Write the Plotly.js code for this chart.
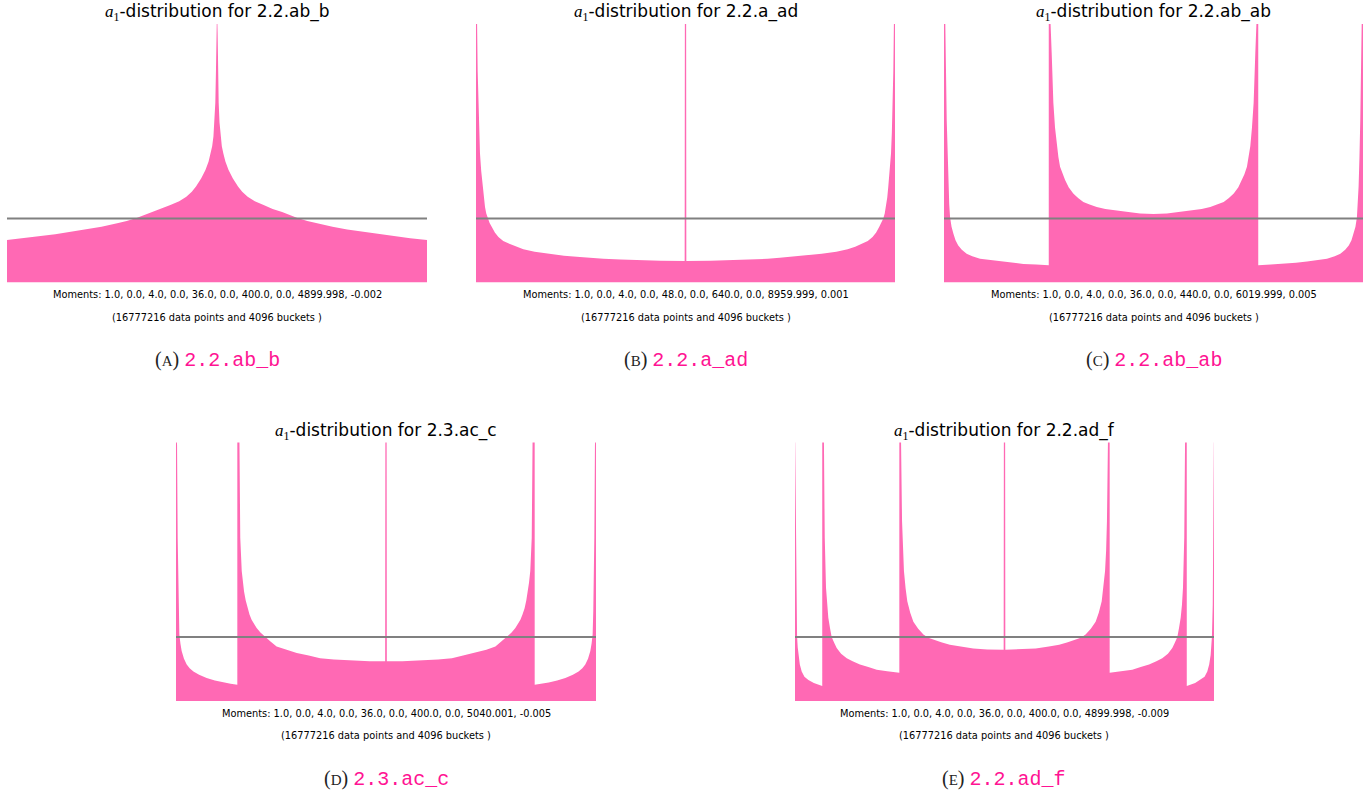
<!DOCTYPE html>
<html>
<head>
<meta charset="utf-8">
<script src="https://cdn.plot.ly/plotly-3.0.1.min.js"></script>
<style>html,body{margin:0;padding:0;background:#fff;}#chart{width:1372px;height:797px;}</style>
</head>
<body>
<div id="chart"></div>
<script>
// ---- data (normalised a1 range [-1, 1], density relative to uniform = 1) ----
const panelNames = ["2.2.ab_b", "2.2.a_ad", "2.2.ab_ab", "2.3.ac_c", "2.2.ad_f"];
const panelLetters = ["A", "B", "C", "D", "E"];
const momentsText = [
  "Moments: 1.0, 0.0, 4.0, 0.0, 36.0, 0.0, 400.0, 0.0, 4899.998, -0.002",
  "Moments: 1.0, 0.0, 4.0, 0.0, 48.0, 0.0, 640.0, 0.0, 8959.999, 0.001",
  "Moments: 1.0, 0.0, 4.0, 0.0, 36.0, 0.0, 440.0, 0.0, 6019.999, 0.005",
  "Moments: 1.0, 0.0, 4.0, 0.0, 36.0, 0.0, 400.0, 0.0, 5040.001, -0.005",
  "Moments: 1.0, 0.0, 4.0, 0.0, 36.0, 0.0, 400.0, 0.0, 4899.998, -0.009"
];
const dataPoints = 16777216;
const buckets = 4096;
const uniformLevel = 1;

const aX = [-1, -0.92, -0.84, -0.77, -0.7, -0.62, -0.55, -0.47, -0.43, -0.38, -0.34, -0.31, -0.265, -0.222, -0.18, -0.146, -0.12, -0.10, -0.075, -0.055, -0.04, -0.03, -0.023, -0.017, -0.012, -0.008, -0.005, -0.003,
            0,
            0.003, 0.005, 0.008, 0.012, 0.017, 0.023, 0.03, 0.04, 0.055, 0.075, 0.10, 0.12, 0.146, 0.18, 0.222, 0.265, 0.31, 0.34, 0.38, 0.43, 0.47, 0.55, 0.62, 0.7, 0.77, 0.84, 0.92, 1];
const aY = [0.663, 0.69, 0.725, 0.755, 0.79, 0.83, 0.87, 0.93, 0.96, 1.01, 1.06, 1.10, 1.15, 1.21, 1.27, 1.34, 1.42, 1.50, 1.63, 1.76, 1.89, 2.02, 2.13, 2.28, 2.5, 2.81, 3.3, 3.9,
            4.3,
            3.9, 3.3, 2.81, 2.5, 2.28, 2.13, 2.02, 1.89, 1.76, 1.63, 1.50, 1.42, 1.34, 1.27, 1.21, 1.15, 1.10, 1.06, 1.01, 0.96, 0.93, 0.87, 0.83, 0.79, 0.755, 0.725, 0.69, 0.663];

const bX = [-1, -0.995, -0.992, -0.989, -0.985, -0.981, -0.975, -0.968, -0.963, -0.957, -0.951, -0.944, -0.935, -0.925, -0.91, -0.893, -0.87, -0.838, -0.81, -0.774, -0.72, -0.65, -0.58, -0.504, -0.45, -0.392, -0.31, -0.233, -0.12, -0.004,
            -0.003, 0.003,
            0.004, 0.12, 0.233, 0.31, 0.392, 0.45, 0.504, 0.58, 0.65, 0.72, 0.774, 0.81, 0.838, 0.87, 0.893, 0.91, 0.925, 0.935, 0.944, 0.951, 0.957, 0.963, 0.968, 0.975, 0.981, 0.985, 0.989, 0.992, 0.995, 1];
const bY = [4.3, 4.1, 3.3, 2.81, 2.35, 2.02, 1.74, 1.50, 1.33, 1.18, 1.08, 1.0, 0.93, 0.87, 0.78, 0.71, 0.65, 0.60, 0.56, 0.52, 0.48, 0.45, 0.42, 0.40, 0.385, 0.37, 0.36, 0.35, 0.34, 0.335,
            4.3, 4.3,
            0.335, 0.34, 0.35, 0.36, 0.37, 0.385, 0.40, 0.42, 0.45, 0.48, 0.52, 0.56, 0.60, 0.65, 0.71, 0.78, 0.87, 0.93, 1.0, 1.08, 1.18, 1.33, 1.50, 1.74, 2.02, 2.35, 2.81, 3.3, 4.1, 4.3];

const cX = [-1, -0.994, -0.987, -0.983, -0.979, -0.975, -0.971, -0.964, -0.955, -0.945, -0.932, -0.915, -0.892, -0.865, -0.828, -0.78, -0.733, -0.68, -0.621, -0.56, -0.5,
            -0.5, -0.492, -0.486, -0.478, -0.47, -0.462, -0.454, -0.446, -0.434, -0.422, -0.405, -0.383, -0.36, -0.335, -0.305, -0.271, -0.23, -0.176, -0.12, -0.064, 0,
            0.064, 0.12, 0.176, 0.23, 0.271, 0.305, 0.335, 0.36, 0.383, 0.405, 0.422, 0.434, 0.446, 0.454, 0.462, 0.47, 0.478, 0.486, 0.492, 0.5,
            0.5, 0.56, 0.621, 0.68, 0.733, 0.78, 0.828, 0.865, 0.892, 0.915, 0.932, 0.945, 0.955, 0.964, 0.971, 0.975, 0.979, 0.983, 0.987, 0.994, 1];
const cY = [4.3, 4.1, 2.54, 1.95, 1.50, 1.22, 1.02, 0.87, 0.76, 0.66, 0.58, 0.51, 0.45, 0.41, 0.37, 0.35, 0.33, 0.31, 0.29, 0.28, 0.27,
            4.3, 4.1, 3.59, 2.81, 2.42, 2.13, 1.96, 1.81, 1.69, 1.60, 1.49, 1.39, 1.32, 1.26, 1.22, 1.18, 1.15, 1.12, 1.10, 1.08, 1.07,
            1.08, 1.10, 1.12, 1.15, 1.18, 1.22, 1.26, 1.32, 1.39, 1.49, 1.60, 1.69, 1.81, 1.96, 2.13, 2.42, 2.81, 3.59, 4.1, 4.3,
            0.27, 0.28, 0.29, 0.31, 0.33, 0.35, 0.37, 0.41, 0.45, 0.51, 0.58, 0.66, 0.76, 0.87, 1.02, 1.22, 1.50, 1.95, 2.54, 4.1, 4.3];

const dX = [-1, -0.995, -0.992, -0.989, -0.987, -0.984, -0.979, -0.973, -0.962, -0.949, -0.935, -0.917, -0.89, -0.854, -0.815, -0.775, -0.74, -0.708,
            -0.708, -0.698, -0.694, -0.687, -0.681, -0.676, -0.668, -0.660, -0.650, -0.640, -0.628, -0.616, -0.598, -0.576, -0.55, -0.521, -0.478, -0.425, -0.368, -0.314, -0.248, -0.156, -0.078, -0.004,
            -0.003, 0.003,
            0.004, 0.078, 0.156, 0.248, 0.314, 0.368, 0.425, 0.478, 0.521, 0.55, 0.576, 0.598, 0.616, 0.628, 0.640, 0.650, 0.660, 0.668, 0.676, 0.681, 0.687, 0.694, 0.698, 0.708,
            0.708, 0.74, 0.775, 0.815, 0.854, 0.89, 0.917, 0.935, 0.949, 0.962, 0.973, 0.979, 0.984, 0.987, 0.989, 0.992, 0.995, 1];
const dY = [4.3, 4.0, 2.55, 1.77, 1.4, 1.04, 0.9, 0.78, 0.66, 0.57, 0.51, 0.46, 0.41, 0.36, 0.32, 0.29, 0.27, 0.255,
            4.3, 4.1, 2.55, 2.03, 1.85, 1.71, 1.57, 1.45, 1.35, 1.27, 1.20, 1.14, 1.07, 1.0, 0.93, 0.85, 0.80, 0.75, 0.71, 0.67, 0.65, 0.63, 0.622, 0.62,
            4.3, 4.3,
            0.62, 0.622, 0.63, 0.65, 0.67, 0.71, 0.75, 0.80, 0.85, 0.93, 1.0, 1.07, 1.14, 1.20, 1.27, 1.35, 1.45, 1.57, 1.71, 1.85, 2.03, 2.55, 4.1, 4.3,
            0.255, 0.27, 0.29, 0.32, 0.36, 0.41, 0.46, 0.51, 0.57, 0.66, 0.78, 0.9, 1.04, 1.4, 1.77, 2.55, 4.0, 4.3];

const eX = [-1, -0.997, -0.994, -0.99, -0.987, -0.984, -0.977, -0.968, -0.955, -0.936, -0.91, -0.87,
            -0.87, -0.862, -0.858, -0.852, -0.847, -0.841, -0.833, -0.825, -0.813, -0.801, -0.78, -0.753, -0.725, -0.69, -0.65, -0.61, -0.56, -0.502,
            -0.502, -0.494, -0.489, -0.485, -0.48, -0.472, -0.464, -0.45, -0.435, -0.412, -0.387, -0.364, -0.34, -0.302, -0.261, -0.212, -0.149, -0.082, -0.004,
            -0.003, 0.003,
            0.004, 0.082, 0.149, 0.212, 0.261, 0.302, 0.34, 0.364, 0.387, 0.412, 0.435, 0.45, 0.464, 0.472, 0.48, 0.485, 0.489, 0.494, 0.502,
            0.502, 0.56, 0.61, 0.65, 0.69, 0.725, 0.753, 0.78, 0.801, 0.813, 0.825, 0.833, 0.841, 0.847, 0.852, 0.858, 0.862, 0.87,
            0.87, 0.91, 0.936, 0.955, 0.968, 0.977, 0.984, 0.987, 0.99, 0.994, 0.997, 1];
const eY = [4.3, 3.0, 1.5, 1.0, 0.84, 0.72, 0.57, 0.46, 0.38, 0.33, 0.28, 0.235,
            4.3, 4.1, 2.55, 1.77, 1.5, 1.30, 1.14, 1.0, 0.91, 0.83, 0.74, 0.67, 0.62, 0.57, 0.53, 0.49, 0.465, 0.44,
            4.3, 4.1, 2.81, 2.35, 2.03, 1.76, 1.56, 1.38, 1.24, 1.13, 1.04, 0.99, 0.96, 0.92, 0.88, 0.85, 0.82, 0.805, 0.80,
            4.3, 4.3,
            0.80, 0.805, 0.82, 0.85, 0.88, 0.92, 0.96, 0.99, 1.04, 1.13, 1.24, 1.38, 1.56, 1.76, 2.03, 2.35, 2.81, 4.1, 4.3,
            0.44, 0.465, 0.49, 0.53, 0.57, 0.62, 0.67, 0.74, 0.83, 0.91, 1.0, 1.14, 1.30, 1.5, 1.77, 2.55, 4.1, 4.3,
            0.235, 0.28, 0.33, 0.38, 0.46, 0.57, 0.72, 0.84, 1.0, 1.5, 3.0, 4.3];

const seriesX = [aX, bX, cX, dX, eX];
const seriesY = [aY, bY, cY, dY, eY];

// ---- layout geometry (pixels in a 1372x797 canvas) ----
const W = 1372, H = 797;
const boxes = [
  {x0: 7,   x1: 427,  y0: 24,  y1: 282.5},
  {x0: 476, x1: 895,  y0: 24,  y1: 282.5},
  {x0: 944, x1: 1363, y0: 24,  y1: 282.5},
  {x0: 176, x1: 596,  y0: 442.5, y1: 701},
  {x0: 795, x1: 1214, y0: 442.5, y1: 701}
];
const px = v => v / W;
const py = v => 1 - v / H;

const traces = [];
const layout = {
  width: W, height: H,
  margin: {l: 0, r: 0, t: 0, b: 0},
  paper_bgcolor: "#ffffff", plot_bgcolor: "rgba(0,0,0,0)",
  showlegend: false,
  shapes: [], annotations: []
};

boxes.forEach((b, i) => {
  const n = i === 0 ? "" : String(i + 1);
  traces.push({
    type: "scatter", mode: "lines",
    x: seriesX[i], y: seriesY[i],
    xaxis: "x" + n, yaxis: "y" + n,
    fill: "tozeroy", fillcolor: "#ff69b4",
    line: {width: 0, color: "#ff69b4"},
    hoverinfo: "skip"
  });
  layout["xaxis" + n] = {domain: [px(b.x0), px(b.x1)], range: [-1, 1], visible: false, anchor: "y" + n, fixedrange: true};
  layout["yaxis" + n] = {domain: [py(b.y1), py(b.y0)], range: [0, 4.04], visible: false, anchor: "x" + n, fixedrange: true};
  layout.shapes.push({
    type: "line", xref: "x" + n + " domain", yref: "y" + n,
    x0: 0, x1: 1, y0: uniformLevel, y1: uniformLevel,
    line: {color: "#808080", width: 2.2}, layer: "above"
  });
  const cx = px((b.x0 + b.x1) / 2);
  layout.annotations.push({
    xref: "paper", yref: "paper", x: cx, y: py(b.y0 - 11), xanchor: "center", yanchor: "middle", showarrow: false,
    text: '<span style="font-family:Liberation Serif"><i>a</i><sub>1</sub></span>-distribution for ' + panelNames[i],
    font: {family: "DejaVu Sans", size: 17, color: "#000"}
  });
  layout.annotations.push({
    xref: "paper", yref: "paper", x: cx, y: py(b.y1 + 12.5), xanchor: "center", yanchor: "middle", showarrow: false,
    text: momentsText[i], font: {family: "DejaVu Sans", size: 9.8, color: "#000"}
  });
  layout.annotations.push({
    xref: "paper", yref: "paper", x: cx, y: py(b.y1 + 34.5), xanchor: "center", yanchor: "middle", showarrow: false,
    text: "(" + dataPoints + " data points and " + buckets + " buckets )", font: {family: "DejaVu Sans", size: 9.8, color: "#000"}
  });
  layout.annotations.push({
    xref: "paper", yref: "paper", x: cx, y: py(b.y1 + 78), xanchor: "center", yanchor: "middle", showarrow: false,
    text: '(<span style="font-size:15px">' + panelLetters[i] + '</span>) ' +
          '<span style="font-family:Liberation Mono;color:#ff1493">' + panelNames[i] + '</span>',
    font: {family: "Liberation Serif", size: 20, color: "#222"}
  });
});

Plotly.newPlot("chart", traces, layout, {staticPlot: true, displayModeBar: false});
</script>
</body>
</html>
